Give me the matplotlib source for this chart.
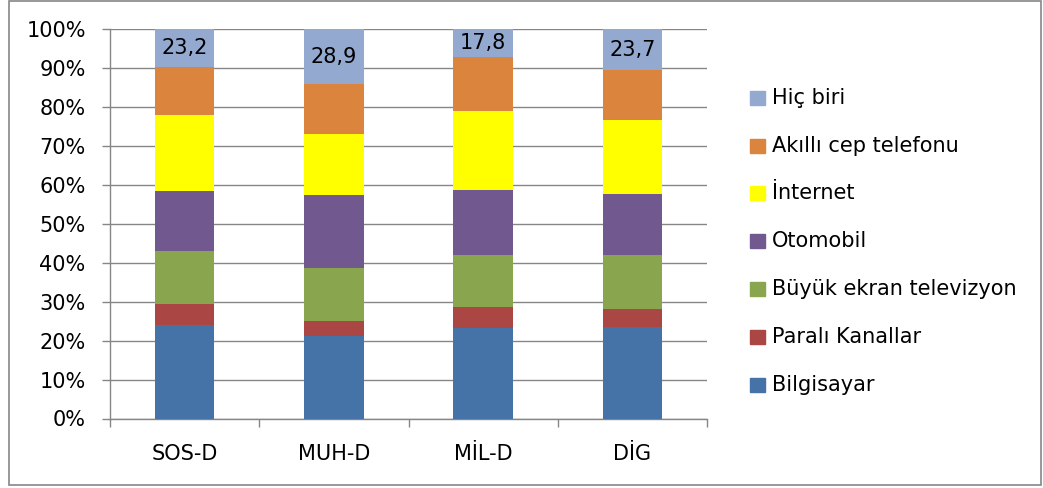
import matplotlib
matplotlib.use("Agg")
import matplotlib.pyplot as plt
from matplotlib.patches import Rectangle
import numpy as np

categories = ["SOS-D", "MUH-D", "MİL-D", "DİG"]
series_names = ["Bilgisayar", "Paralı Kanallar", "Büyük ekran televizyon",
                "Otomobil", "İnternet", "Akıllı cep telefonu", "Hiç biri"]
bilgisayar = [56.6, 43.7, 59.4, 53.4]
parali_kanallar = [12.8, 7.6, 13.5, 10.5]
buyuk_ekran_tv = [32.4, 27.9, 33.8, 31.7]
otomobil = [36.5, 38.5, 42.2, 36.0]
internet = [46.2, 32.4, 51.6, 43.1]
akilli_telefon = [29.1, 26.0, 35.8, 29.6]
hic_biri = [23.2, 28.9, 17.8, 23.7]
colors = ["#4572A7", "#AA4643", "#89A54E", "#71588F", "#FFFF00", "#DB843D", "#93A9CF"]

series = [bilgisayar, parali_kanallar, buyuk_ekran_tv, otomobil, internet, akilli_telefon, hic_biri]
data = np.array(series, dtype=float)
totals = data.sum(axis=0)
shares = data / totals

plt.rcParams['font.family'] = ['DejaVu Sans']
FS = 15
W, H = 1043, 488
fig = plt.figure(figsize=(W / 100, H / 100), dpi=100)

def fx(px):
    return px / W

def fy(py):
    return 1 - py / H

ax = fig.add_axes([fx(110), fy(418.5), fx(707) - fx(110), fy(29.3) - fy(418.5)])
x = np.arange(len(categories))
bottom = np.zeros(len(categories))
bars_list = []
for i, name in enumerate(series_names):
    b = ax.bar(x, shares[i], 0.4, bottom=bottom, color=colors[i], label=name, zorder=3)
    bars_list.append(b)
    bottom += shares[i]

# data labels on "Hiç biri"
for j, rect in enumerate(bars_list[-1]):
    cy = rect.get_y() + rect.get_height() / 2
    ax.text(rect.get_x() + rect.get_width() / 2, cy, f"{hic_biri[j]:.1f}".replace(".", ","),
            ha="center", va="center", fontsize=FS, color="black", zorder=4)

ax.set_xlim(-0.5, len(categories) - 0.5)
ax.set_ylim(0, 1)
ax.set_yticks(np.linspace(0, 1, 11))
ax.set_yticklabels([f"{int(round(v * 100))}%" for v in np.linspace(0, 1, 11)], fontsize=FS)
ax.set_xticks(x)
ax.set_xticklabels(categories, fontsize=FS)
ax.set_xticks(np.arange(-0.5, len(categories)), minor=True)
ax.tick_params(axis="x", which="major", length=0, pad=18)
ax.tick_params(axis="x", which="minor", length=5.5, color="#868686", width=1)
ax.tick_params(axis="y", length=5.5, color="#868686", width=1, pad=12)
ax.yaxis.grid(True, color="#868686", linewidth=1, zorder=0)
ax.set_axisbelow(True)
for s in ["top", "right"]:
    ax.spines[s].set_visible(False)
for s in ["left", "bottom"]:
    ax.spines[s].set_color("#868686")
    ax.spines[s].set_linewidth(1)

# legend (reverse order, manual layout)
leg_y = [98, 146, 193, 241, 289, 337, 385]
for k, idx in enumerate(reversed(range(len(series_names)))):
    yc = leg_y[k]
    fig.add_artist(Rectangle((fx(750), fy(yc + 7)), fx(765) - fx(750), fy(yc - 7) - fy(yc + 7),
                             transform=fig.transFigure, color=colors[idx]))
    fig.text(fx(772), fy(yc), series_names[idx], fontsize=FS, va="center", ha="left")

# chart border
fig.add_artist(Rectangle((fx(9), fy(485)), fx(1041) - fx(9), fy(1) - fy(485),
                         transform=fig.transFigure, fill=False, edgecolor="#868686", linewidth=1.2))

fig.savefig("out.png", dpi=100)
